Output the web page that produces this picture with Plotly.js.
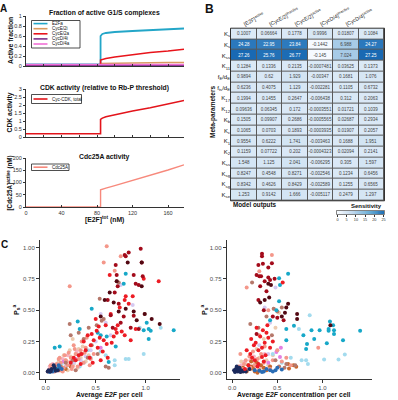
<!DOCTYPE html>
<html><head><meta charset="utf-8">
<script src="https://cdn.plot.ly/plotly-3.0.1.min.js"></script>
<style>html,body{margin:0;padding:0;background:#fff}#chart{width:398px;height:400px}</style>
</head><body><div id="chart"></div>
<script>
// ---------- Panel A data ----------
const e2fTot   = [0, 20, 40, 60, 80, 84, 84.01, 86, 90, 100, 120, 140, 160, 178];
const fracE2Fa  = [0.03,0.03,0.03,0.03,0.03,0.03,0.60,0.64,0.66,0.68,0.70,0.72,0.73,0.75];
const fracCycE2i= [0.02,0.02,0.02,0.02,0.02,0.02,0.05,0.05,0.05,0.055,0.06,0.065,0.07,0.07];
const fracCycE2a= [0.02,0.02,0.02,0.02,0.02,0.02,0.12,0.13,0.15,0.18,0.23,0.27,0.30,0.335];
const fracCycD4i= [0.005,0.005,0.005,0.005,0.005,0.005,0.005,0.005,0.005,0.005,0.005,0.005,0.005,0.005];
const fracCycD4a= [0.03,0.03,0.03,0.03,0.03,0.03,0.03,0.03,0.03,0.03,0.03,0.03,0.03,0.03];
const fracNames = ["E2Fa","CycE/2i","CycE/2a","CycD/4i","CycD/4a"];
const fracColors= ["#23a6c8","#d99a5e","#e8141b","#7a2f8c","#f06fd6"];
const cdkTotal  = [0.2,0.2,0.2,0.2,0.2,0.2,1.1,1.18,1.27,1.4,1.63,1.83,2.05,2.28];
const cdc25A    = [0,0,0,0,0,0,70,73,77,87,108,130,151,172];

// ---------- Panel B data ----------
const colLabels = ["[E2F]<sup>active</sup>","[CycE/2]<sup>inactive</sup>","[CycE/2]<sup>active</sup>","[CycD/4]<sup>inactive</sup>","[CycD/4]<sup>active</sup>","[Cdc25A]<sup>active</sup>"];
const rowLabels = ["K<sub>s</sub>","K<sub>s</sub>","K<sub>ss</sub>","K<sub>11</sub>","f<sub>E</sub>/d<sub>E</sub>","f<sub>ts</sub>/d<sub>E</sub>","K<sub>17</sub>","K<sub>12</sub>","K<sub>b</sub>","K<sub>c</sub>","K<sub>1</sub>","K<sub>2</sub>","K<sub>ss</sub>","K<sub>sg</sub>","K<sub>sg</sub>","K<sub>se</sub>"];
const sensRows = [
 ["0.1007","0.06664","0.1778","0.9996","0.01807","0.1084"],
 ["24.28","22.95","23.84","-0.1442","6.988","24.27"],
 ["27.26","25.76","26.77","-0.145","7.024","27.25"],
 ["0.1284","0.1336","0.2135","-0.0007481","0.03625","0.1373"],
 ["0.9894","0.62","1.929","-0.00347","0.1681","1.076"],
 ["0.6236","0.4075","1.129","-0.002281","0.1105","0.6732"],
 ["0.1994","0.1455","0.2647","-0.006438","0.312","0.2063"],
 ["0.09636","0.06345","0.172","-0.0003551","0.01721","0.1039"],
 ["0.1505","0.09907","0.2686","-0.0005565","0.02687","0.2934"],
 ["0.1065","0.0703","0.1893","-0.0003935","0.01907","0.2057"],
 ["0.9554","0.6222","1.741","-0.003463","0.1688","1.951"],
 ["0.1159","0.07722","0.202","-0.0004323","0.02094","0.2141"],
 ["1.548","1.125","2.041","-0.006295","0.305","1.597"],
 ["0.8247","0.4548","0.8271","-0.002546","0.1234","0.6456"],
 ["0.8342","0.4626","0.8429","-0.002589","0.1255","0.6565"],
 ["1.253","0.9142","1.666","-0.005117","0.2479","1.297"]
];
const cbarTicks = [0,5,10,15,20,25];

// ---------- Panel C data (left: average E2F per cell) ----------
const groupColors = {
  tan:"#eccbb0", pink:"#f6b3c4", lavender:"#d5c9f0", lightblue:"#a3dbee", magenta:"#e37fe0",
  orange:"#c9672d", salmon:"#f4978a", brown:"#b5786b", cyan:"#17a8c8", blue:"#2a6db5",
  navy:"#1b2a5c", red:"#ed1c24", darkred:"#a30b1b", maroon:"#520812"
};
const L_tan_x=[0.20,0.25,0.30,0.35,0.15,0.10,0.28,0.40,0.22,0.18,0.32,0.05,0.08,0.13,0.24,0.37,0.43,0.27,0.33];
const L_tan_y=[0.10,0.13,0.15,0.12,0.06,0.03,0.07,0.09,0.02,0.14,0.04,0.02,0.05,0.09,0.18,0.21,0.14,0.27,0.19];
const L_pink_x=[0.05,0.10,0.15,0.03,0.08,0.12,0.20,0.25,0.07,0.17,0.22,0.31,0.04,0.13];
const L_pink_y=[0.04,0.06,0.08,0.02,0.01,0.03,0.05,0.09,0.07,0.11,0.14,0.17,0.05,0.015];
const L_lavender_x=[0.87,0.75,0.55,0.60,0.40,0.35,0.28,0.15,0.50,0.65,0.45];
const L_lavender_y=[0.54,0.70,0.47,0.40,0.13,0.10,0.08,0.04,0.25,0.30,0.18];
const L_lightblue_x=[0.94,0.98,0.83,0.80,0.69,0.69,1.15,0.30,0.38,0.25,0.45,0.55,0.20,0.60,0.10,0.16,0.34,0.42];
const L_lightblue_y=[0.36,0.15,0.11,0.11,0.10,0.06,0.36,0.10,0.08,0.06,0.12,0.17,0.04,0.14,0.03,0.07,0.05,0.18];
const L_magenta_x=[0.07,0.12,0.18,0.30,0.55];
const L_magenta_y=[0.03,0.05,0.09,0.11,0.20];
const L_orange_x=[0.20,0.25,0.15];
const L_orange_y=[0.03,0.05,0.02];
const L_salmon_x=[0.61,0.58,0.75,0.69,0.24,0.10,0.15,0.20,0.25,0.30,0.35,0.18,0.22,0.12,0.08,0.40,0.28,0.32,0.05,0.14,0.45,0.38,0.26,0.05,0.09,0.03,0.19,0.36,0.02,0.06,0.11,0.16,0.21,0.27,0.33,0.39,0.44,0.13,0.23,0.29,0.41,0.48,0.17];
const L_salmon_y=[1.01,0.88,0.93,0.815,0.69,0.05,0.08,0.10,0.12,0.15,0.18,0.04,0.06,0.03,0.02,0.20,0.22,0.05,0.03,0.12,0.11,0.08,0.03,0.06,0.01,0.02,0.14,0.25,0.01,0.04,0.07,0.02,0.09,0.05,0.11,0.16,0.06,0.11,0.16,0.19,0.28,0.15,0.01];
const L_brown_x=[0.54,0.33,0.24,0.43,0.51,0.56,0.58,0.99,0.73,0.71,0.20,0.27,0.35,0.15,0.42,0.30,0.60,0.63,0.38,0.46,0.25,0.52];
const L_brown_y=[0.59,0.32,0.39,0.36,0.38,0.415,0.43,0.47,0.72,0.73,0.08,0.10,0.15,0.05,0.12,0.02,0.05,0.04,0.27,0.22,0.30,0.15];
const L_cyan_x=[0.80,0.78,0.46,1.01,1.03,0.98,1.05,1.28,1.03,0.63,0.09,0.14,0.32,0.34,0.61,0.55,0.52,0.12,0.08,0.70];
const L_cyan_y=[0.79,0.71,0.51,0.40,0.35,0.34,0.335,0.34,0.27,0.085,0.20,0.21,0.41,0.35,0.29,0.30,0.32,0.03,0.02,0.21];
const L_blue_x=[0.10,0.14,0.16,0.07,0.13,0.04];
const L_blue_y=[0.02,0.04,0.03,0.01,0.06,0.005];
const L_navy_x=[0.03,0.06,0.09,0.05,0.12,0.02,0.08,0.10];
const L_navy_y=[0.02,0.03,0.04,0.01,0.02,0.01,0.06,0.015];
const L_red_x=[0.98,1.13,0.64,0.79,0.80,0.87,0.51,0.54,0.58,0.61,0.68,0.71,0.76,0.79,0.66,0.70,0.45,0.40,0.36,0.48,0.52,0.44,0.38,0.57,0.30,0.33,0.42,0.47,0.55,0.62,0.35,0.25,0.28,0.60,0.50,0.85,0.72,0.90,0.65,0.74,0.83,0.46,0.53];
const L_red_y=[0.75,0.73,0.78,0.58,0.61,0.61,0.335,0.28,0.26,0.23,0.29,0.32,0.33,0.30,0.24,0.35,0.22,0.18,0.15,0.26,0.20,0.12,0.25,0.17,0.10,0.14,0.30,0.08,0.10,0.12,0.07,0.08,0.12,0.38,0.43,0.26,0.38,0.35,0.47,0.52,0.55,0.31,0.37];
const L_darkred_x=[0.95,0.79,0.83,0.80,0.70,0.96,0.71,0.72,0.88,0.97,0.90,0.93,0.73,0.69,0.88,0.62,0.78,0.65,0.85,0.75,0.67,0.93];
const L_darkred_y=[0.99,0.94,0.96,0.93,0.86,0.88,0.78,0.69,0.78,0.77,0.71,0.70,0.55,0.64,0.455,0.58,0.45,0.46,0.36,0.40,0.36,0.35];
const L_maroon_x=[0.82,0.71,0.96,0.68,0.64,0.88,0.99,1.06,0.91,1.14,0.59,0.55,0.73,0.80,0.96];
const L_maroon_y=[0.88,0.73,0.69,0.56,0.64,0.49,0.47,0.43,0.42,0.39,0.58,0.45,0.49,0.51,0.88];

// ---------- Panel C data (right: average E2F concentration per cell) ----------
const R_tan_x=[0.46,0.52,0.48,0.35,0.30,0.25,0.40,0.20,0.45,0.15,0.10,0.22,0.33,0.38,0.27];
const R_tan_y=[0.51,0.48,0.36,0.27,0.12,0.08,0.06,0.05,0.14,0.07,0.09,0.12,0.04,0.10,0.19];
const R_pink_x=[0.36,0.20,0.10,0.08,0.18,0.28,0.05,0.14,0.24,0.32];
const R_pink_y=[0.15,0.10,0.06,0.03,0.04,0.08,0.02,0.09,0.13,0.05];
const R_lavender_x=[0.48,0.36,0.42,0.30,0.40,0.50,0.25];
const R_lavender_y=[0.68,0.52,0.40,0.22,0.15,0.18,0.10];
const R_lightblue_x=[0.86,0.74,1.25,1.18,1.02,0.82,0.77,0.84,0.65,0.55,0.45];
const R_lightblue_y=[0.46,0.35,0.145,0.105,0.105,0.10,0.10,0.07,0.12,0.08,0.15];
const R_magenta_x=[0.54,0.49,0.53,0.40,0.30];
const R_magenta_y=[0.20,0.165,0.125,0.08,0.06];
const R_orange_x=[0.62,0.68,0.71,0.63,0.15,0.20,0.25,0.30,0.35,0.10,0.22,0.28,0.18,0.12,0.16,0.24,0.32,0.38,0.42,0.27,0.21];
const R_orange_y=[0.07,0.06,0.047,0.034,0.02,0.03,0.01,0.02,0.04,0.01,0.05,0.00,0.06,0.04,0.01,0.03,0.06,0.02,0.05,0.08,0.09];
const R_salmon_x=[0.44,0.30,0.16,0.40,0.09,0.955,0.25,0.20,0.12,0.35,0.45,0.55,0.65,0.60,0.30,0.50,0.05,0.15,0.07,0.13,0.19,0.23,0.32,0.36,0.42,0.28];
const R_salmon_y=[0.94,0.81,0.68,0.50,0.15,0.20,0.06,0.04,0.03,0.08,0.10,0.09,0.06,0.12,0.30,0.18,0.02,0.10,0.05,0.07,0.13,0.17,0.15,0.21,0.03,0.11];
const R_brown_x=[0.22,0.46,0.20,0.29,0.38,0.50,0.55,0.44,0.60,0.70,0.58,0.52,0.48];
const R_brown_y=[0.72,0.51,0.39,0.36,0.45,0.49,0.52,0.30,0.07,0.06,0.04,0.05,0.10];
const R_cyan_x=[0.52,0.62,0.53,0.52,1.085,1.12,0.97,1.07,1.07,1.13,1.13,0.91,0.88,0.685,0.60,0.60,0.79,0.83,0.82,1.05,1.23,1.42,0.49,0.42];
const R_cyan_y=[0.755,0.79,0.70,0.57,0.41,0.38,0.34,0.35,0.335,0.34,0.31,0.27,0.34,0.375,0.35,0.26,0.30,0.23,0.19,0.235,0.26,0.335,0.50,0.42];
const R_blue_x=[0.55,0.48,0.42,0.35,0.30,0.38,0.45,0.25,0.33,0.50];
const R_blue_y=[0.026,0.02,0.02,0.01,0.015,0.03,0.01,0.02,0.005,0.04];
const R_navy_x=[0.02,0.04,0.06,0.08,0.03,0.10,0.05,0.12,0.07,0.15,0.19,0.09];
const R_navy_y=[0.02,0.03,0.01,0.04,0.005,0.02,0.05,0.01,0.025,0.01,0.03,0.005];
const R_red_x=[0.56,0.21,0.29,0.33,0.36,0.40,0.38,0.34,0.27,0.25,0.29,0.33,0.16,0.20,0.24,0.31,0.22,0.37,0.42,0.28,0.35,0.18,0.26,0.39,0.45,0.14];
const R_red_y=[0.72,0.27,0.18,0.20,0.24,0.28,0.32,0.34,0.36,0.10,0.07,0.125,0.18,0.15,0.22,0.29,0.12,0.14,0.20,0.05,0.09,0.06,0.24,0.38,0.25,0.03];
const R_darkred_x=[0.33,0.33,0.29,0.34,0.44,0.40,0.27,0.30,0.32,0.36,0.40,0.42,0.47,0.31,0.38,0.29,0.27,0.45,0.35,0.50,0.57];
const R_darkred_y=[0.95,0.93,0.86,0.87,0.875,0.84,0.78,0.77,0.77,0.73,0.76,0.74,0.75,0.69,0.65,0.58,0.31,0.45,0.50,0.44,0.42];
const R_maroon_x=[0.31,0.41,0.62,0.585,0.72,0.72,0.40,0.43,1.09,0.60,0.55,0.36];
const R_maroon_y=[0.56,0.60,0.55,0.48,0.47,0.43,0.71,0.70,0.38,0.52,0.45,0.58];

// ---------- layout helpers ----------
const W=398, H=400;
const px = x => x/W;
const py = y => 1 - y/H;
const FONT = "Liberation Sans, Arial, sans-serif";
const traces = [];
const annotations = [];
const shapes = [];

// Panel A lines
const fracData=[fracE2Fa,fracCycE2i,fracCycE2a,fracCycD4i,fracCycD4a];
fracData.forEach((ys,i)=>{
  traces.push({type:"scatter",mode:"lines",x:e2fTot,y:ys,xaxis:"x",yaxis:"y",
    line:{color:fracColors[i],width:(i===0?1.8:1.6)},showlegend:false,hoverinfo:"skip"});
});
traces.push({type:"scatter",mode:"lines",x:e2fTot,y:cdkTotal,xaxis:"x2",yaxis:"y2",line:{color:"#e3141b",width:1.6},showlegend:false});
traces.push({type:"scatter",mode:"lines",x:e2fTot,y:cdc25A,xaxis:"x3",yaxis:"y3",line:{color:"#f7897c",width:1.4},showlegend:false});

const aX = {range:[0,178],showline:true,linecolor:"#333",linewidth:1,ticks:"inside",ticklen:2,tickcolor:"#333",
  tickvals:[0,20,40,60,80,100,120,140,160],showgrid:false,zeroline:false,fixedrange:true,
  tickfont:{size:5.5,color:"#333",family:FONT}};
const aY = {showline:true,linecolor:"#333",linewidth:1,ticks:"outside",ticklen:2,tickcolor:"#333",showgrid:false,zeroline:false,
  tickfont:{size:5.5,color:"#333",family:FONT}};

// Manual legends for panel A
function legendBox(x0,y0,x1,y1){ shapes.push({type:"rect",xref:"paper",yref:"paper",x0:px(x0),x1:px(x1),y0:py(y1),y1:py(y0),line:{color:"#222",width:0.8},fillcolor:"rgba(255,255,255,0.9)",layer:"above"}); }
function legendItem(y,color,text,w){
  shapes.push({type:"line",xref:"paper",yref:"paper",x0:px(33.5),x1:px(47.5),y0:py(y),y1:py(y),line:{color:color,width:w||1.6},layer:"above"});
  annotations.push({xref:"paper",yref:"paper",x:px(49.5),y:py(y),text:text,showarrow:false,xanchor:"left",yanchor:"middle",font:{size:4.5,color:"#111",family:FONT}});
}
legendBox(31.5,20.5,80,48);
fracNames.forEach((n,i)=>legendItem(23.6+i*5.1,fracColors[i],n));
legendBox(31.5,94.5,81.5,103.5);
legendItem(99,"#e3141b","Cyc-CDK, total");
legendBox(31.5,164,69,170.5);
legendItem(167.2,"#f7897c","Cdc25A");

// Panel B heatmap table
const zVals = sensRows.map(r=>r.map(v=>parseFloat(v)));
traces.push({type:"heatmap",z:zVals,text:sensRows,texttemplate:"%{text}",
  x:[0,1,2,3,4,5],y:rowLabels.map((_,i)=>i),xaxis:"x4",yaxis:"y4",
  zmin:-0.15,zmax:27.3,xgap:1,ygap:1,showscale:false,hoverinfo:"skip",
  colorscale:[[0,"#f7fbff"],[0.004,"#dbe9f6"],[0.08,"#d2e4f3"],[0.26,"#a7cbe7"],[0.6,"#5a9fd2"],[1,"#1969b3"]],
  textfont:{size:4.5,family:FONT}});
shapes.push({type:"rect",xref:"paper",yref:"paper",x0:px(230.5),x1:px(384.5),y0:py(200.8),y1:py(28.2),fillcolor:"#5a5a5a",line:{color:"#333",width:1},layer:"below"});

// Sensitivity colour bar
const cbarVals = [];
for (let v=0; v<=25; v+=0.5) cbarVals.push(v);
traces.push({type:"heatmap",z:[cbarVals],x:cbarVals,y:[0],xaxis:"x5",yaxis:"y5",zmin:0,zmax:25,showscale:false,hoverinfo:"skip",
  colorscale:[[0,"#f7fbff"],[0.3,"#c6dbef"],[0.7,"#6baed6"],[1,"#2171b5"]]});
shapes.push({type:"rect",xref:"paper",yref:"paper",x0:px(336.5),x1:px(384.5),y0:py(214.5),y1:py(210.5),line:{color:"#333",width:0.6},fillcolor:"rgba(0,0,0,0)",layer:"above"});

// Panel C scatter
const order=["tan","pink","lavender","lightblue","magenta","orange","salmon","brown","cyan","blue","navy","red","darkred","maroon"];
const LEFT={tan:[L_tan_x,L_tan_y],pink:[L_pink_x,L_pink_y],lavender:[L_lavender_x,L_lavender_y],lightblue:[L_lightblue_x,L_lightblue_y],
  magenta:[L_magenta_x,L_magenta_y],orange:[L_orange_x,L_orange_y],salmon:[L_salmon_x,L_salmon_y],brown:[L_brown_x,L_brown_y],
  cyan:[L_cyan_x,L_cyan_y],blue:[L_blue_x,L_blue_y],navy:[L_navy_x,L_navy_y],red:[L_red_x,L_red_y],darkred:[L_darkred_x,L_darkred_y],maroon:[L_maroon_x,L_maroon_y]};
const RIGHT={tan:[R_tan_x,R_tan_y],pink:[R_pink_x,R_pink_y],lavender:[R_lavender_x,R_lavender_y],lightblue:[R_lightblue_x,R_lightblue_y],
  magenta:[R_magenta_x,R_magenta_y],orange:[R_orange_x,R_orange_y],salmon:[R_salmon_x,R_salmon_y],brown:[R_brown_x,R_brown_y],
  cyan:[R_cyan_x,R_cyan_y],blue:[R_blue_x,R_blue_y],navy:[R_navy_x,R_navy_y],red:[R_red_x,R_red_y],darkred:[R_darkred_x,R_darkred_y],maroon:[R_maroon_x,R_maroon_y]};
order.forEach(k=>{
  traces.push({type:"scatter",mode:"markers",x:LEFT[k][0],y:LEFT[k][1],xaxis:"x6",yaxis:"y6",marker:{color:groupColors[k],size:4},showlegend:false,hoverinfo:"skip"});
  traces.push({type:"scatter",mode:"markers",x:RIGHT[k][0],y:RIGHT[k][1],xaxis:"x7",yaxis:"y7",marker:{color:groupColors[k],size:4},showlegend:false,hoverinfo:"skip"});
});

const cX = {showline:true,linecolor:"#333",linewidth:1,ticks:"outside",ticklen:3,tickcolor:"#333",showgrid:false,zeroline:false,
  tickvals:[0,0.5,1],ticktext:["0.0","0.5","1.0"],tickfont:{size:6,color:"#4d4d4d",family:FONT}};
const cY = {showline:true,linecolor:"#333",linewidth:1,ticks:"outside",ticklen:3,tickcolor:"#333",showgrid:false,zeroline:false,
  range:[-0.05,1.06],tickvals:[0,0.25,0.5,0.75,1],ticktext:["0.00","0.25","0.50","0.75","1.00"],tickfont:{size:6,color:"#4d4d4d",family:FONT}};

// Text annotations (bold via font weight)
function ann(x,y,text,size,opt){ annotations.push(Object.assign({xref:"paper",yref:"paper",x:px(x),y:py(y),text:text,showarrow:false,xanchor:"center",yanchor:"middle",
  font:{size:size,color:"#111",family:FONT,weight:"bold"}},opt||{})); }
ann(3,8,"A",10);
ann(209,9,"B",12);
ann(4,244,"C",10);
ann(104,13,"Fraction of active G1/S complexes",6.8);
ann(104,87.5,"CDK activity (relative to Rb-P threshold)",6.8);
ann(104,156.5,"Cdc25A activity",6.8);
ann(10,41,"Active fraction",6.8,{textangle:-90});
ann(9.5,113,"CDK activity",6.8,{textangle:-90});
ann(9.5,183,"[Cdc25A]<sup>active</sup> (nM)",6.3,{textangle:-90});
ann(105,219,"[E2F]<sup>tot</sup> (nM)",6.8);
ann(213,112,"Meta-parameters",6.5,{textangle:-90});
ann(231,205,"Model outputs",6.3,{xanchor:"left"});
ann(384,205.5,"Sensitivity",6,{xanchor:"right"});
ann(16,310,"P<sub>s</sub><sup>a</sup>",7,{textangle:-90});
ann(204,310,"P<sub>s</sub><sup>a</sup>",7,{textangle:-90});
ann(110,395,"Average <i>E2F</i> per cell",6.8);
ann(294,395,"Average <i>E2F</i> concentration per cell",6.8);

const layout = {
  width:W,height:H,margin:{l:0,r:0,t:0,b:0},paper_bgcolor:"#fff",plot_bgcolor:"rgba(0,0,0,0)",
  font:{family:FONT},showlegend:false,
  xaxis: Object.assign({},aX,{domain:[px(26),px(184)],anchor:"y",showticklabels:false}),
  yaxis: Object.assign({},aY,{domain:[py(66),py(16)],anchor:"x",range:[0,1],tickvals:[0,0.2,0.4,0.6,0.8,1]}),
  xaxis2:Object.assign({},aX,{domain:[px(26),px(184)],anchor:"y2",showticklabels:false}),
  yaxis2:Object.assign({},aY,{domain:[py(137),py(89)],anchor:"x2",range:[0,3],tickvals:[0,0.5,1,1.5,2,2.5,3]}),
  xaxis3:Object.assign({},aX,{domain:[px(26),px(184)],anchor:"y3",tickvals:[0,40,80,120,160]}),
  yaxis3:Object.assign({},aY,{domain:[py(207),py(158)],anchor:"x3",range:[0,200],tickvals:[0,50,100,150,200]}),
  xaxis4:{domain:[px(231),px(384)],anchor:"y4",range:[-0.5,5.5],side:"top",tickvals:[0,1,2,3,4,5],ticktext:colLabels,tickangle:-28,
    ticks:"",showgrid:false,zeroline:false,showline:false,tickfont:{size:5.3,color:"#222",family:FONT}},
  yaxis4:{domain:[py(200.4),py(28.6)],anchor:"x4",range:[15.5,-0.5],tickvals:rowLabels.map((_,i)=>i),ticktext:rowLabels,
    ticks:"",showgrid:false,zeroline:false,showline:false,tickfont:{size:6,color:"#111",family:FONT}},
  xaxis5:{domain:[px(337),px(384)],anchor:"y5",range:[-0.25,25.25],tickvals:cbarTicks,ticks:"outside",ticklen:1.5,tickcolor:"#333",
    showgrid:false,zeroline:false,showline:false,tickfont:{size:3.8,color:"#333",family:FONT}},
  yaxis5:{domain:[py(214.3),py(210.7)],anchor:"x5",range:[-0.5,0.5],showticklabels:false,ticks:"",showgrid:false,zeroline:false},
  xaxis6:Object.assign({},cX,{domain:[px(40),px(180)],anchor:"y6",range:[-0.057,1.343]}),
  yaxis6:Object.assign({},cY,{domain:[py(379),py(240)],anchor:"x6"}),
  xaxis7:Object.assign({},cX,{domain:[px(226.7),px(372)],anchor:"y7",range:[-0.062,1.552]}),
  yaxis7:Object.assign({},cY,{domain:[py(379),py(240)],anchor:"x7"}),
  annotations:annotations,shapes:shapes
};
Plotly.newPlot("chart",traces,layout,{staticPlot:true,displayModeBar:false});
</script></body></html>
